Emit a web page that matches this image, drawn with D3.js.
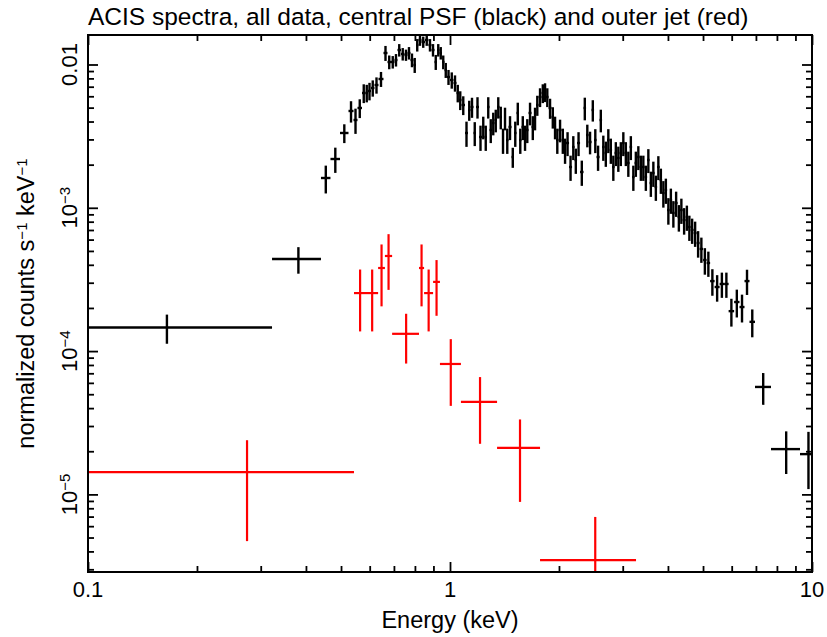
<!DOCTYPE html>
<html>
<head>
<meta charset="utf-8" />
<style>

body {
    margin: 0;
    background-color: #fff;
}

#chart {
    width: 827px;
    height: 637px;
}

text {
    font-family: "Liberation Sans", Arial, Helvetica, sans-serif;
    fill: #000;
}

</style>
<title>ACIS spectra</title>
</head>

<body>
<div id="chart"></div>

<script src="https://d3js.org/d3.v7.min.js"></script>
<script>

// ---- data (keV bin edges, normalized counts s^-1 keV^-1, fractional 1-sigma errors) ----

// central PSF (black): contiguous bins, N+1 edges
var blackEdges = [0.008, 0.3224, 0.4401, 0.4675, 0.4968, 0.5243, 0.5413, 0.5552, 0.5713, 0.5842,
    0.5935, 0.6050, 0.6186, 0.6345, 0.6550, 0.6719, 0.6870, 0.7025, 0.7160, 0.7321,
    0.7486, 0.7630, 0.7777, 0.7926, 0.8054, 0.8183, 0.8341, 0.8528, 0.8720, 0.8889,
    0.9062, 0.9206, 0.9354, 0.9504, 0.9656, 0.9811, 1.0, 1.0225, 1.0422, 1.0589,
    1.0759, 1.1001, 1.1212, 1.1392, 1.1612, 1.1798, 1.2025, 1.2257, 1.2454, 1.2653,
    1.2856, 1.3062, 1.3272, 1.3485, 1.3701, 1.3921, 1.4100, 1.4280, 1.4509, 1.4789,
    1.5026, 1.5267, 1.5512, 1.5761, 1.6014, 1.6219, 1.6479, 1.6797, 1.7066, 1.7285,
    1.7562, 1.7900, 1.8188, 1.8421, 1.8716, 1.9077, 1.9383, 1.9631, 1.9946, 2.0331,
    2.0657, 2.0921, 2.1324, 2.1734, 2.2083, 2.2437, 2.2869, 2.3384, 2.3759, 2.4140,
    2.4605, 2.4999, 2.5400, 2.5890, 2.6306, 2.6728, 2.7157, 2.7593, 2.8035, 2.8485,
    2.8942, 2.9406, 2.9878, 3.0357, 3.0844, 3.1339, 3.1842, 3.2352, 3.2871, 3.3398,
    3.3934, 3.4478, 3.5032, 3.5593, 3.6164, 3.6745, 3.7334, 3.7933, 3.8541, 3.9159,
    3.9787, 4.0425, 4.1074, 4.1733, 4.2537, 4.3219, 4.3912, 4.4758, 4.5476, 4.6205,
    4.7095, 4.7999, 4.8925, 5.0026, 5.1150, 5.2303, 5.3822, 5.5563, 5.7176, 5.8837,
    6.0932, 6.3055, 6.5091, 6.7195, 6.9587, 7.7048, 9.2655, 10.29];

var blackCounts = [1.461e-4, 4.39e-4,
    1.614e-3, 2.190e-3, 3.327e-3, 4.738e-3, 4.099e-3, 4.972e-3, 6.326e-3, 6.326e-3, 6.533e-3, 6.855e-3,
    7.193e-3, 7.921e-3, 1.203e-2, 1.041e-2, 1.041e-2, 1.075e-2, 1.262e-2, 1.184e-2, 1.165e-2, 1.203e-2,
    1.075e-2, 9.92e-3, 1.368e-2, 1.483e-2, 1.436e-2, 1.483e-2, 1.368e-2, 1.262e-2, 1.041e-2, 1.262e-2,
    1.203e-2, 1.041e-2, 9.154e-3, 8.179e-3, 7.795e-3, 7.428e-3, 6.326e-3, 5.655e-3, 5.217e-3, 3.327e-3,
    4.815e-3, 5.052e-3, 3.327e-3, 5.052e-3, 3.119e-3, 3.663e-3, 3.119e-3, 5.052e-3, 3.491e-3, 3.906e-3,
    4.099e-3, 5.052e-3, 4.301e-3, 2.972e-3, 4.233e-3, 2.972e-3, 3.663e-3, 2.262e-3, 3.327e-3, 4.588e-3,
    2.972e-3, 3.663e-3, 3.119e-3, 3.491e-3, 4.588e-3, 3.663e-3, 4.233e-3, 5.217e-3, 5.934e-3, 6.326e-3,
    6.429e-3, 5.934e-3, 4.972e-3, 4.301e-3, 3.663e-3, 2.972e-3, 3.491e-3, 2.972e-3, 2.532e-3, 2.832e-3,
    1.926e-3, 2.657e-3, 2.156e-3, 2.832e-3, 1.778e-3, 4.972e-3, 3.222e-3, 2.878e-3, 4.815e-3, 2.972e-3,
    2.262e-3, 4.099e-3, 2.657e-3, 2.413e-3, 2.972e-3, 2.532e-3, 1.926e-3, 2.413e-3, 2.226e-3, 2.413e-3,
    2.832e-3, 2.413e-3, 2.054e-3, 2.657e-3, 1.640e-3, 2.054e-3, 2.262e-3, 1.926e-3, 1.926e-3, 1.640e-3,
    2.156e-3, 1.489e-3, 1.749e-3, 1.397e-3, 1.926e-3, 1.563e-3, 1.269e-3, 1.331e-3, 9.65e-4, 1.134e-3,
    9.20e-4, 1.080e-3, 8.63e-4, 9.65e-4, 8.22e-4, 8.63e-4, 7.34e-4, 7.00e-4, 6.67e-4, 5.68e-4,
    5.16e-4, 4.32e-4, 4.12e-4, 3.08e-4, 2.80e-4, 2.94e-4, 2.94e-4, 1.90e-4, 2.20e-4, 2.03e-4,
    3.08e-4, 1.60e-4, 5.62e-5, 2.07e-5, 1.91e-5];

var blackFracErr = [0.23, 0.21,
    0.22, 0.20, 0.15, 0.17, 0.20, 0.15, 0.15, 0.14, 0.14, 0.13,
    0.13, 0.12, 0.12, 0.11, 0.10, 0.10, 0.10, 0.10, 0.09, 0.10,
    0.11, 0.12, 0.10, 0.09, 0.09, 0.09, 0.10, 0.10, 0.12, 0.10,
    0.10, 0.11, 0.12, 0.12, 0.13, 0.13, 0.14, 0.15, 0.15, 0.20,
    0.16, 0.16, 0.19, 0.17, 0.20, 0.18, 0.20, 0.17, 0.19, 0.18,
    0.18, 0.17, 0.18, 0.20, 0.18, 0.20, 0.19, 0.16, 0.20, 0.18,
    0.20, 0.19, 0.20, 0.19, 0.18, 0.19, 0.18, 0.16, 0.15, 0.15,
    0.15, 0.15, 0.16, 0.17, 0.18, 0.20, 0.18, 0.20, 0.20, 0.19,
    0.20, 0.19, 0.20, 0.19, 0.20, 0.18, 0.18, 0.18, 0.17, 0.19,
    0.20, 0.18, 0.20, 0.20, 0.19, 0.20, 0.20, 0.19, 0.20, 0.19,
    0.19, 0.19, 0.20, 0.19, 0.20, 0.20, 0.19, 0.20, 0.20, 0.20,
    0.19, 0.20, 0.20, 0.20, 0.19, 0.20, 0.21, 0.20, 0.21, 0.20,
    0.21, 0.20, 0.21, 0.20, 0.21, 0.20, 0.20, 0.20, 0.20, 0.21,
    0.20, 0.21, 0.20, 0.21, 0.21, 0.20, 0.20, 0.22, 0.22, 0.22,
    0.20, 0.22, 0.25, 0.33, 0.43];

// outer jet (red)
var redEdges = [0.007, 0.543, 0.586, 0.633, 0.661, 0.692, 0.821, 0.848, 0.898, 0.938, 1.072, 1.349, 1.773, 3.265];
var redCounts = [1.43e-5, 2.54e-4, 2.54e-4, 3.80e-4, 4.61e-4, 1.32e-4, 3.80e-4, 2.54e-4, 3.04e-4, 8.13e-5, 4.42e-5, 2.11e-5, 3.48e-6];
var redFracErr = [0.67, 0.46, 0.46, 0.46, 0.42, 0.38, 0.46, 0.46, 0.42, 0.49, 0.49, 0.58, 1.0];

// ticks
var xMajor = [0.1, 1, 10];
var xMajorLabels = ["0.1", "1", "10"];
var xMinor = [0.2, 0.3, 0.4, 0.5, 0.6, 0.7, 0.8, 0.9, 2, 3, 4, 5, 6, 7, 8, 9];
var yMajor = [1e-5, 1e-4, 1e-3, 1e-2];
var yMajorBase = ["10", "10", "10", "0.01"];
var yMajorExp = ["\u22125", "\u22124", "\u22123", ""];
var yMinor = [3e-6, 4e-6, 5e-6, 6e-6, 7e-6, 8e-6, 9e-6,
    2e-5, 3e-5, 4e-5, 5e-5, 6e-5, 7e-5, 8e-5, 9e-5,
    2e-4, 3e-4, 4e-4, 5e-4, 6e-4, 7e-4, 8e-4, 9e-4,
    2e-3, 3e-3, 4e-3, 5e-3, 6e-3, 7e-3, 8e-3, 9e-3];

if (blackEdges.length !== blackCounts.length + 1 || blackFracErr.length !== blackCounts.length) {
    console.error("black arrays mismatch", blackEdges.length, blackCounts.length, blackFracErr.length);
}

// ---- layout ----
var width = 827, height = 637;
var margin = {top: 35, right: 15, bottom: 65, left: 88},
    w = width - margin.left - margin.right,
    h = height - margin.top - margin.bottom;

var svg = d3.select("#chart").append("svg")
    .attr("width", width)
    .attr("height", height);

var g = svg.append("g")
    .attr("transform", "translate(" + margin.left + "," + margin.top + ")");

var x = d3.scaleLog().domain([0.1, 10]).range([0, w]);
var y = d3.scaleLog().domain([2.873e-6, 0.016064]).range([h, 0]);

g.append("clipPath").attr("id", "plot-clip")
  .append("rect").attr("width", w).attr("height", h);

// ---- error-bar crosses ----
function drawSpectrum(edges, counts, fracErr, color, lw) {
    var pts = counts.map(function(v, i) {
        var lo = edges[i], hi = edges[i + 1];
        return {lo: lo, hi: hi, e: (lo + hi) / 2, v: v, s: v * fracErr[i]};
    });
    var layer = g.append("g").attr("clip-path", "url(#plot-clip)")
        .attr("stroke", color).attr("stroke-width", lw).attr("fill", "none");

    layer.selectAll("line.h").data(pts).enter().append("line")
        .attr("class", "h")
        .attr("x1", function(d) { return x(Math.max(d.lo, 0.01)); })
        .attr("x2", function(d) { return x(d.hi); })
        .attr("y1", function(d) { return y(d.v); })
        .attr("y2", function(d) { return y(d.v); });

    layer.selectAll("line.v").data(pts).enter().append("line")
        .attr("class", "v")
        .attr("x1", function(d) { return x(d.e); })
        .attr("x2", function(d) { return x(d.e); })
        .attr("y1", function(d) { return y(d.v + d.s); })
        .attr("y2", function(d) { return d.v - d.s > 1e-9 ? y(d.v - d.s) : h + 10; });
}

drawSpectrum(blackEdges, blackCounts, blackFracErr, "#000", 2.4);
drawSpectrum(redEdges, redCounts, redFracErr, "#ff0000", 2.2);

// ---- axes (ticks inward on all four sides) ----
function tickAxis(axis, values, size, transform) {
    var a = g.append("g").attr("transform", transform || null)
        .call(axis.tickValues(values).tickSize(-size).tickFormat(""));
    a.select(".domain").remove();
    a.selectAll(".tick line").attr("stroke", "#000").attr("stroke-width", 1.8);
    return a;
}

tickAxis(d3.axisBottom(x), xMajor, 10, "translate(0," + h + ")");
tickAxis(d3.axisBottom(x), xMinor, 6, "translate(0," + h + ")");
tickAxis(d3.axisTop(x), xMajor, 10);
tickAxis(d3.axisTop(x), xMinor, 6);
tickAxis(d3.axisLeft(y), yMajor, 10);
tickAxis(d3.axisLeft(y), yMinor, 6);
tickAxis(d3.axisRight(y), yMajor, 10, "translate(" + w + ",0)");
tickAxis(d3.axisRight(y), yMinor, 6, "translate(" + w + ",0)");

g.append("rect")
    .attr("width", w).attr("height", h)
    .attr("fill", "none").attr("stroke", "#000").attr("stroke-width", 2);

// x tick labels
g.selectAll("text.xlab").data(xMajor).enter().append("text")
    .attr("class", "xlab")
    .attr("x", function(d) { return x(d); })
    .attr("y", h + 25)
    .attr("text-anchor", "middle")
    .style("font-size", "22px")
    .text(function(d, i) { return xMajorLabels[i]; });

// y tick labels (rotated)
var ylab = g.selectAll("text.ylab").data(yMajor).enter().append("text")
    .attr("class", "ylab")
    .attr("transform", function(d) { return "translate(-11," + y(d) + ") rotate(-90)"; })
    .attr("text-anchor", "middle")
    .style("font-size", "22px");
ylab.append("tspan").text(function(d, i) { return yMajorBase[i]; });
ylab.append("tspan")
    .attr("baseline-shift", "45%")
    .style("font-size", "15px")
    .text(function(d, i) { return yMajorExp[i]; });

// axis titles
svg.append("text")
    .attr("x", margin.left + w / 2)
    .attr("y", 628)
    .attr("text-anchor", "middle")
    .style("font-size", "23.5px")
    .text("Energy (keV)");

var yt = svg.append("text")
    .attr("transform", "translate(34," + (margin.top + h / 2) + ") rotate(-90)")
    .attr("text-anchor", "middle")
    .style("font-size", "23.5px");
yt.append("tspan").text("normalized counts s");
yt.append("tspan").attr("baseline-shift", "45%").style("font-size", "15px").text("\u22121");
yt.append("tspan").text(" keV");
yt.append("tspan").attr("baseline-shift", "45%").style("font-size", "15px").text("\u22121");

// title
svg.append("text")
    .attr("x", margin.left)
    .attr("y", 25)
    .style("font-size", "24.5px")
    .text("ACIS spectra, all data, central PSF (black) and outer jet (red)");

</script>
</body>
</html>
